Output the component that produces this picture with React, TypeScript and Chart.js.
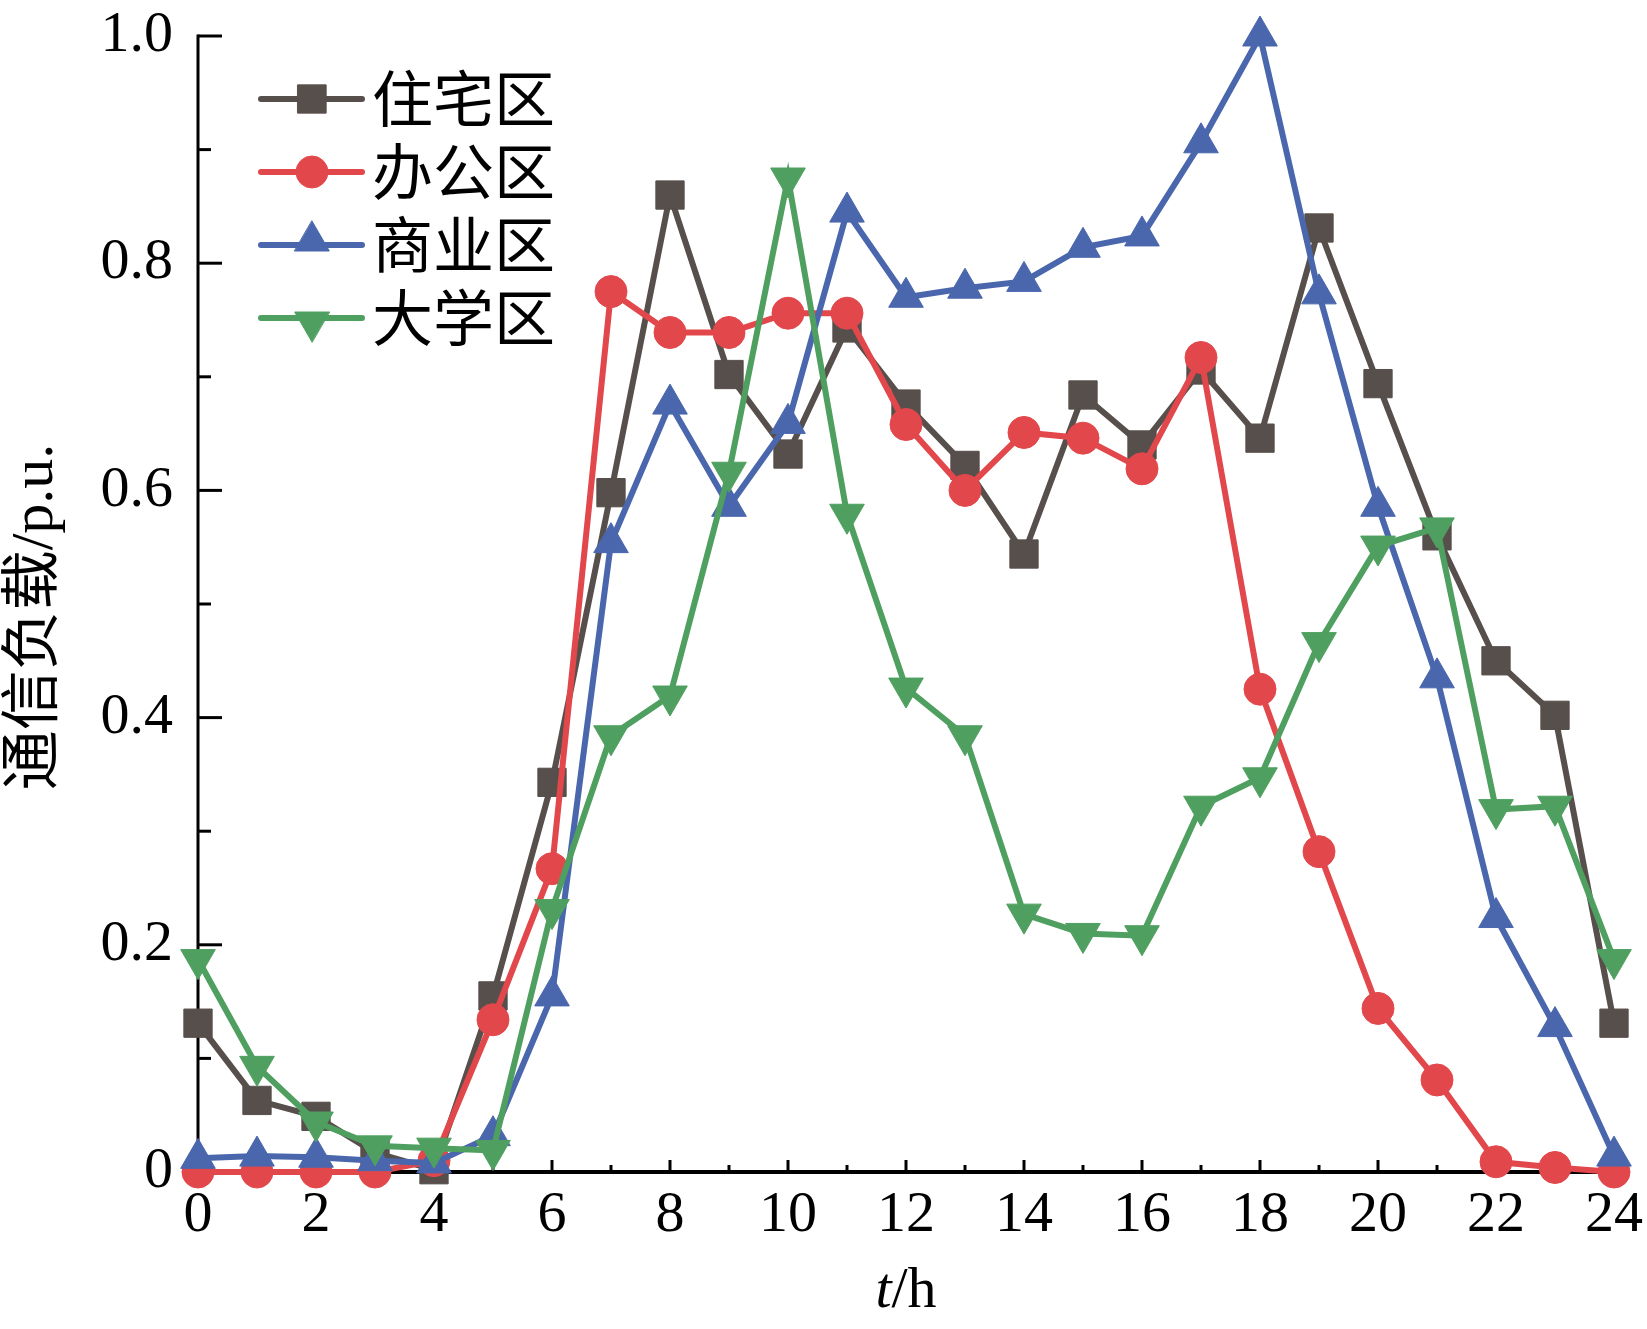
import React, { useEffect, useRef } from 'react';
import { Chart, registerables } from 'chart.js';
import { drawPoint } from 'chart.js/helpers';

Chart.register(...registerables);

const hours = [0, 1, 2, 3, 4, 5, 6, 7, 8, 9, 10, 11, 12, 13, 14, 15, 16, 17, 18, 19, 20, 21, 22, 23, 24];
const seriesNames = ['住宅区', '办公区', '商业区', '大学区'];
const residential = [0.131, 0.063, 0.049, 0.017, 0.002, 0.155, 0.343, 0.598, 0.860, 0.702, 0.632, 0.743, 0.676, 0.622, 0.544, 0.684, 0.640, 0.706, 0.646, 0.831, 0.694, 0.560, 0.450, 0.402, 0.131];
const office = [0.0, 0.0, 0.0, 0.0, 0.01, 0.134, 0.267, 0.775, 0.739, 0.739, 0.756, 0.756, 0.658, 0.600, 0.651, 0.646, 0.619, 0.717, 0.425, 0.282, 0.144, 0.081, 0.009, 0.004, 0.0];
const commercial = [0.012, 0.014, 0.013, 0.010, 0.008, 0.032, 0.155, 0.554, 0.676, 0.586, 0.659, 0.845, 0.770, 0.778, 0.784, 0.814, 0.824, 0.906, 1.0, 0.773, 0.586, 0.435, 0.224, 0.128, 0.014];
const university = [0.187, 0.093, 0.044, 0.023, 0.021, 0.019, 0.231, 0.384, 0.419, 0.616, 0.875, 0.579, 0.426, 0.384, 0.227, 0.210, 0.208, 0.322, 0.347, 0.466, 0.551, 0.567, 0.319, 0.322, 0.187];
const xTickLabelEvery = 2;
const yTitle = '通信负载/p.u.';

const colors = ['#574f4b', '#e2474b', '#4a67ad', '#4fa060'];
const pointStyles = ['rect', 'circle', 'triangle', 'triangle'];
const pointRadii = [20, 16, 20, 20];
const pointRotations = [0, 0, 0, 180];
const seriesValues = [residential, office, commercial, university];

const SERIF = '"Liberation Serif", "Times New Roman", "Noto Sans CJK SC", serif';
const CJK = '"Noto Sans CJK SC", "Liberation Serif", sans-serif';

const customPlugin = {
  id: 'customAxesLegend',
  beforeDatasetsDraw(chart: any) {
    const { ctx, chartArea, scales } = chart;
    const x = scales.x;
    const y = scales.y;
    ctx.save();
    ctx.strokeStyle = '#000';
    ctx.lineCap = 'butt';
    ctx.lineWidth = 3;
    y.ticks.forEach((t: any) => {
      const py = y.getPixelForValue(t.value);
      const major = Math.round(t.value * 10) % 2 === 0;
      ctx.beginPath();
      ctx.moveTo(chartArea.left, py);
      ctx.lineTo(chartArea.left + (major ? 24 : 13), py);
      ctx.stroke();
    });
    x.ticks.forEach((t: any) => {
      const px = x.getPixelForValue(t.value);
      const major = Math.round(t.value) % 2 === 0;
      ctx.beginPath();
      ctx.moveTo(px, chartArea.bottom);
      ctx.lineTo(px, chartArea.bottom - (major ? 12 : 7));
      ctx.stroke();
    });
    ctx.lineWidth = 3;
    ctx.beginPath();
    ctx.moveTo(chartArea.left, chartArea.top - 1.5);
    ctx.lineTo(chartArea.left, chartArea.bottom);
    ctx.stroke();
    ctx.lineWidth = 4;
    ctx.beginPath();
    ctx.moveTo(chartArea.left - 1.5, chartArea.bottom);
    ctx.lineTo(chartArea.right, chartArea.bottom);
    ctx.stroke();
    ctx.restore();
  },
  afterDraw(chart: any) {
    const { ctx, chartArea } = chart;
    ctx.save();
    ctx.fillStyle = '#000';
    ctx.translate(36, 617);
    ctx.rotate(-Math.PI / 2);
    ctx.font = '60px ' + SERIF;
    ctx.textAlign = 'center';
    ctx.textBaseline = 'middle';
    ctx.fillText(yTitle, 0, 0);
    ctx.restore();

    ctx.save();
    ctx.fillStyle = '#000';
    ctx.textBaseline = 'middle';
    ctx.textAlign = 'left';
    const italicFont = 'italic 58px ' + SERIF;
    const normalFont = '58px ' + SERIF;
    ctx.font = italicFont;
    const wT = ctx.measureText('t').width;
    ctx.font = normalFont;
    const wH = ctx.measureText('/h').width;
    const cx = (chartArea.left + chartArea.right) / 2;
    const startX = cx - (wT + wH) / 2;
    ctx.font = italicFont;
    ctx.fillText('t', startX, 1292);
    ctx.font = normalFont;
    ctx.fillText('/h', startX + wT, 1292);
    ctx.restore();

    ctx.save();
    chart.data.datasets.forEach((ds: any, i: number) => {
      const rowY = 99 + i * 73;
      ctx.strokeStyle = ds.borderColor;
      ctx.lineWidth = 6;
      ctx.lineCap = 'round';
      ctx.beginPath();
      ctx.moveTo(261, rowY);
      ctx.lineTo(362, rowY);
      ctx.stroke();
      ctx.fillStyle = ds.pointBackgroundColor;
      ctx.strokeStyle = ds.pointBorderColor;
      ctx.lineWidth = 1;
      drawPoint(ctx, {
        pointStyle: ds.pointStyle,
        radius: ds.pointRadius,
        rotation: ds.pointRotation,
        borderWidth: 1,
      } as any, 312, rowY + (ds.pointRotation === 180 ? 4 : ds.pointStyle === 'triangle' ? -4 : 0));
      ctx.fillStyle = '#000';
      ctx.font = '61px ' + CJK;
      ctx.textAlign = 'left';
      ctx.textBaseline = 'middle';
      ctx.fillText(ds.label, 372, rowY);
    });
    ctx.restore();
  },
};

export default function App() {
  const canvasRef = useRef<HTMLCanvasElement | null>(null);

  useEffect(() => {
    document.body.style.margin = '0';
    const canvas = canvasRef.current;
    if (!canvas) return;
    const datasets = seriesNames.map((name, i) => ({
      label: name,
      data: hours.map((h, j) => ({ x: h, y: seriesValues[i][j] })),
      borderColor: colors[i],
      backgroundColor: colors[i],
      pointBackgroundColor: colors[i],
      pointBorderColor: colors[i],
      pointBorderWidth: 1,
      pointStyle: pointStyles[i],
      pointRadius: pointRadii[i],
      pointRotation: pointRotations[i],
      borderWidth: 6,
      tension: 0,
      fill: false,
      clip: false as any,
      order: 4 - i,
    }));

    const chart = new Chart(canvas, {
      type: 'line',
      data: { datasets } as any,
      plugins: [customPlugin],
      options: {
        animation: false,
        responsive: false,
        devicePixelRatio: 1,
        layout: { padding: { top: 36, right: 33, left: 0, bottom: 0 } },
        plugins: {
          legend: { display: false },
          tooltip: { enabled: false },
          title: { display: false },
        },
        scales: {
          x: {
            type: 'linear',
            min: 0,
            max: 24,
            border: { display: false },
            grid: { display: false, drawTicks: false },
            afterFit: (scale: any) => {
              scale.height = 157;
              scale.paddingLeft = 0;
              scale.paddingRight = 0;
            },
            ticks: {
              stepSize: 1,
              autoSkip: false,
              maxRotation: 0,
              padding: 9,
              color: '#000',
              font: { family: SERIF, size: 58 },
              callback: (v: any) => (Math.round(v) % xTickLabelEvery === 0 ? String(v) : ''),
            },
          },
          y: {
            type: 'linear',
            min: 0,
            max: 1,
            border: { display: false },
            grid: { display: false, drawTicks: false },
            afterFit: (scale: any) => {
              scale.width = 198;
              scale.paddingTop = 0;
              scale.paddingBottom = 0;
            },
            ticks: {
              stepSize: 0.1,
              autoSkip: false,
              padding: 25,
              color: '#000',
              font: { family: SERIF, size: 58 },
              callback: (v: any) => {
                const k = Math.round(Number(v) * 10);
                if (k % 2 !== 0) return '';
                return k === 0 ? '0' : (k / 10).toFixed(1);
              },
            },
          },
        },
      } as any,
    });
    return () => chart.destroy();
  }, []);

  return (
    <div style={{ position: 'relative', width: 1647, height: 1329 }}>
      <canvas
        ref={canvasRef}
        width={1647}
        height={1329}
        style={{ position: 'absolute', left: 0, top: 0, width: 1647, height: 1329, display: 'block' }}
      />
    </div>
  );
}
